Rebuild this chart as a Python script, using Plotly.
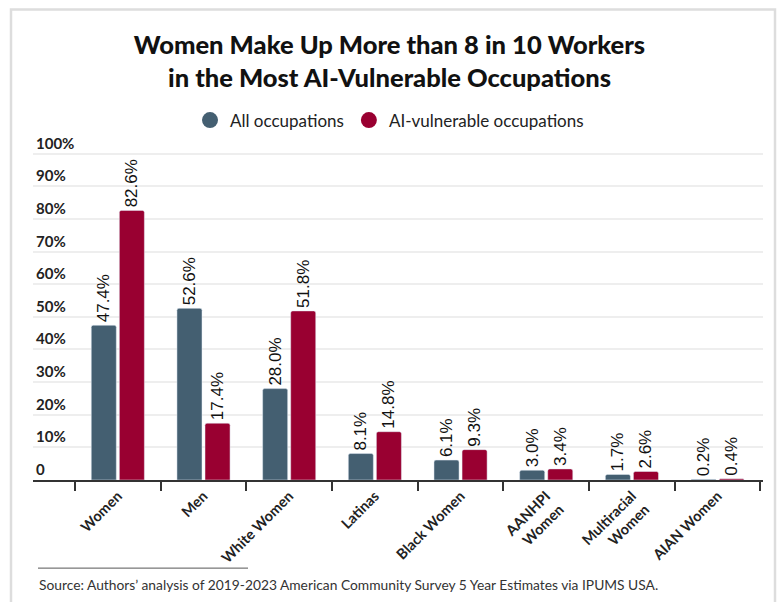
import plotly.graph_objects as go

categories = ["Women", "Men", "White Women", "Latinas", "Black Women",
              "AANHPI<br>Women", "Multiracial<br>Women", "AIAN Women"]
all_occ = [47.4, 52.6, 28.0, 8.1, 6.1, 3.0, 1.7, 0.2]
ai_vuln = [82.6, 17.4, 51.8, 14.8, 9.3, 3.4, 2.6, 0.4]
series_names = ["All occupations", "AI-vulnerable occupations"]
y_ticks = [0, 10, 20, 30, 40, 50, 60, 70, 80, 90, 100]
y_ticktext = ["0"] + [f"{v}%" for v in y_ticks[1:]]

BLUE = "#445F71"
RED = "#990031"

W, H = 779, 602
Y0_PX, Y100_PX = 480, 154
YMAX = 106
unit = (Y0_PX - Y100_PX) / 100.0
L, R = 33, 16
B = H - Y0_PX
T = Y0_PX - YMAX * unit
pw = W - L - R
ph = H - T - B


def px(x):
    return (x - L) / pw


def py(y):
    return (H - B - y) / ph


fig = go.Figure()
for name, vals, col in [(series_names[0], all_occ, BLUE), (series_names[1], ai_vuln, RED)]:
    fig.add_trace(go.Bar(
        x=categories, y=vals, name=name, marker_color=col, showlegend=False,
        text=[f"{v:.1f}%" for v in vals], textposition="outside", textangle=-90,
        constraintext="none", cliponaxis=False,
        textfont=dict(family="Liberation Sans, Arial", size=17, color="#111"),
    ))
    fig.add_trace(go.Scatter(
        x=[None], y=[None], mode="markers", name=name,
        marker=dict(color=col, size=17, symbol="circle"),
    ))

annotations = [
    dict(text=lab, xref="paper", yref="y", x=0, y=v, xanchor="left", yanchor="bottom",
         xshift=1, yshift=0, showarrow=False,
         font=dict(family="Lato", size=15, color="#222", weight="bold"))
    for v, lab in zip(y_ticks, y_ticktext)
]
annotations.append(
    dict(text="Source: Authors\u2019 analysis of 2019-2023 American Community Survey 5 Year Estimates via IPUMS USA.",
         xref="paper", yref="paper", x=px(37), y=py(584), xanchor="left", yanchor="middle",
         showarrow=False, font=dict(family="Lato", size=13.8, color="#333"))
)

fig.update_layout(
    width=W, height=H,
    margin=dict(l=L, r=R, t=T, b=B, autoexpand=False),
    paper_bgcolor="white", plot_bgcolor="white",
    barmode="group", bargap=0.345, bargroupgap=0.107, barcornerradius=2,
    title=dict(
        text="Women Make Up More than 8 in 10 Workers<br>in the Most AI-Vulnerable Occupations",
        x=0.5, xref="container", xanchor="center",
        y=1 - 54 / H, yref="container", yanchor="middle",
        font=dict(family="Lato", size=25.5, color="#111", weight=900),
    ),
    legend=dict(
        orientation="h", x=0.5 - (L - R) / 2 / pw, xanchor="center",
        y=py(121), yanchor="middle",
        font=dict(family="Lato", size=17, color="#222"),
        itemsizing="trace",
    ),
    xaxis=dict(
        type="category", range=[-0.99, 7.53], tickson="boundaries",
        ticks="outside", ticklen=9, tickwidth=1.5, tickcolor="#333",
        showline=True, linecolor="#333", linewidth=2, showgrid=False,
        tickangle=-45,
        tickfont=dict(family="Lato", size=14.5, color="#222", weight="bold"),
    ),
    yaxis=dict(
        range=[0, YMAX], tickvals=y_ticks, showticklabels=False,
        showgrid=True, gridcolor="#EEEEEE",
        gridwidth=1.5, zeroline=False, showline=False, ticks="",
    ),
    shapes=[
        dict(type="path", xref="paper", yref="paper",
             path=f"M {px(11)} {py(640)} L {px(11)} {py(10)} L {px(775)} {py(10)} L {px(775)} {py(640)}",
             line=dict(color="#DDDDDD", width=2.5)),
        dict(type="line", xref="paper", yref="paper",
             x0=px(38), x1=px(248), y0=py(568), y1=py(568),
             line=dict(color="#555", width=1)),
    ],
    annotations=annotations,
)

fig.write_html("out.html", config={"displayModeBar": False})

with open("out.html", "r", encoding="utf-8") as f:
    html = f.read()
html = html.replace("<head>", "<head><style>html,body{margin:0;padding:0;}</style>", 1)
with open("out.html", "w", encoding="utf-8") as f:
    f.write(html)
